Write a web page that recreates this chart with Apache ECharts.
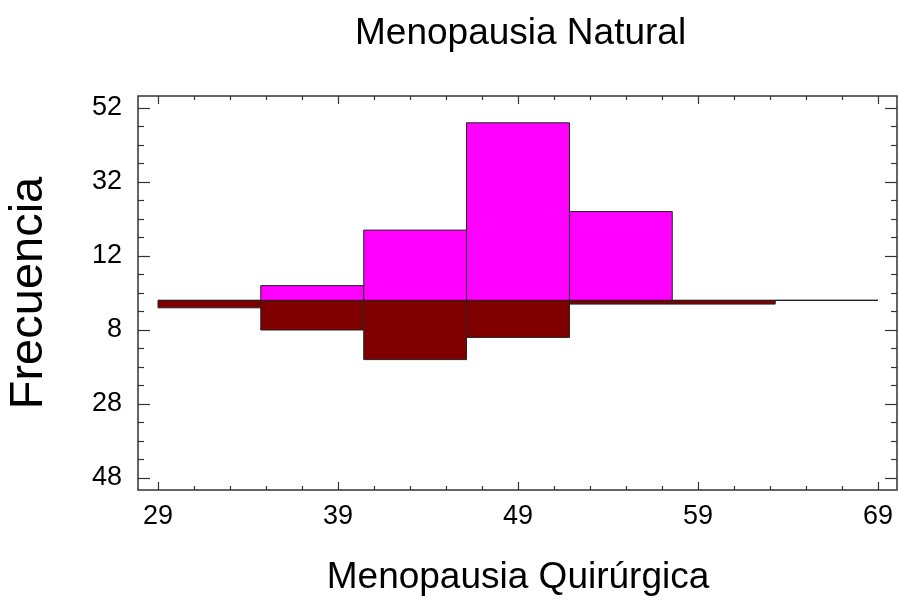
<!DOCTYPE html>
<html>
<head>
<meta charset="utf-8">
<script src="https://cdn.jsdelivr.net/npm/echarts@6/dist/echarts.min.js"></script>
<style>
  html, body { margin: 0; padding: 0; background: #fff; }
  #chart { width: 898px; height: 601px; }
</style>
</head>
<body>
<div id="chart"></div>
<script>
// bordes de clase del histograma (7 clases de 29 a 69)
var binEdges = [29, 34.71, 40.43, 46.14, 51.86, 57.57, 63.29, 69];
// frecuencias hacia arriba: Menopausia Natural
var naturalCounts = [0, 4, 19, 48, 24, 0, 0];
// frecuencias hacia abajo: Menopausia Quirurgica
var quirurgicaCounts = [2, 8, 16, 10, 1, 1, 0];

var fontName = 'Liberation Sans, Arial, sans-serif';

function buildData(counts, sign) {
  var out = [];
  for (let i = 0; i < counts.length; i++) {
    out.push([binEdges[i], binEdges[i + 1], sign * counts[i]]);
  }
  return out;
}

function histItem(color) {
  return function (params, api) {
    var p0 = api.coord([api.value(0), 0]);
    var p1 = api.coord([api.value(1), api.value(2)]);
    return {
      type: 'rect',
      shape: {
        x: p0[0],
        y: Math.min(p0[1], p1[1]),
        width: p1[0] - p0[0],
        height: Math.abs(p1[1] - p0[1])
      },
      style: { fill: color, stroke: '#222', lineWidth: 1 }
    };
  };
}

var chart = echarts.init(document.getElementById('chart'), null, { renderer: 'canvas' });

var tickStyle = { color: '#333', width: 1.2 };

// eje x con las marcas (desplazado hasta el marco)
function xTicks(pos, withLabels) {
  return {
    type: 'value',
    gridIndex: 1,
    position: pos,
    offset: 12,
    min: 29, max: 69, interval: 10,
    name: withLabels ? 'Menopausia Quirúrgica' : '',
    nameLocation: 'middle',
    nameGap: 69,
    nameTextStyle: { fontFamily: fontName, fontSize: 37, color: '#000' },
    axisLine: { show: false, onZero: false },
    axisTick: { show: true, inside: true, length: 8, lineStyle: tickStyle },
    minorTick: { show: true, splitNumber: 5, length: 4, lineStyle: tickStyle },
    axisLabel: { show: withLabels, fontFamily: fontName, fontSize: 27, color: '#000', margin: 13 },
    splitLine: { show: false }
  };
}

function yTicks(pos, offset, withLabels) {
  return {
    type: 'value',
    gridIndex: 1,
    position: pos,
    offset: offset,
    min: -48, max: 52, interval: 20,
    name: withLabels ? 'Frecuencia' : '',
    nameLocation: 'middle',
    nameGap: 85,
    nameTextStyle: { fontFamily: fontName, fontSize: 47, color: '#000' },
    axisLine: { show: false, onZero: false },
    axisTick: { show: true, inside: true, length: 12, lineStyle: tickStyle },
    minorTick: { show: true, splitNumber: 4, length: 6, lineStyle: tickStyle },
    axisLabel: {
      show: withLabels, fontFamily: fontName, fontSize: 27, color: '#000', margin: 16,
      formatter: function (v) { return Math.abs(v); }
    },
    splitLine: { show: false }
  };
}

var option = {
  animation: false,
  backgroundColor: '#fff',
  title: {
    text: 'Menopausia Natural',
    left: 350,
    top: 10,
    textStyle: { fontFamily: fontName, fontSize: 37, fontWeight: 'normal', color: '#000' }
  },
  grid: [
    // marco
    { left: 138, right: 1, top: 96, bottom: 111, show: true, borderColor: '#333', borderWidth: 1.5,
      backgroundColor: 'transparent', outerBoundsMode: 'none', containLabel: false },
    // area de datos
    { left: 158, right: 20, top: 108, bottom: 123, outerBoundsMode: 'none', containLabel: false }
  ],
  xAxis: [
    { type: 'value', gridIndex: 0, min: 0, max: 1, show: false },
    xTicks('bottom', true),
    xTicks('top', false)
  ],
  yAxis: [
    { type: 'value', gridIndex: 0, min: 0, max: 1, show: false },
    yTicks('left', 20, true),
    yTicks('right', 19, false)
  ],
  series: [
    {
      name: 'Menopausia Natural',
      type: 'custom',
      xAxisIndex: 1,
      yAxisIndex: 1,
      renderItem: histItem('#FF00FF'),
      encode: { x: [0, 1], y: 2 },
      data: buildData(naturalCounts, 1)
    },
    {
      name: 'Menopausia Quirúrgica',
      type: 'custom',
      xAxisIndex: 1,
      yAxisIndex: 1,
      renderItem: histItem('#800000'),
      encode: { x: [0, 1], y: 2 },
      data: buildData(quirurgicaCounts, -1)
    }
  ]
};

chart.setOption(option);
</script>
</body>
</html>
